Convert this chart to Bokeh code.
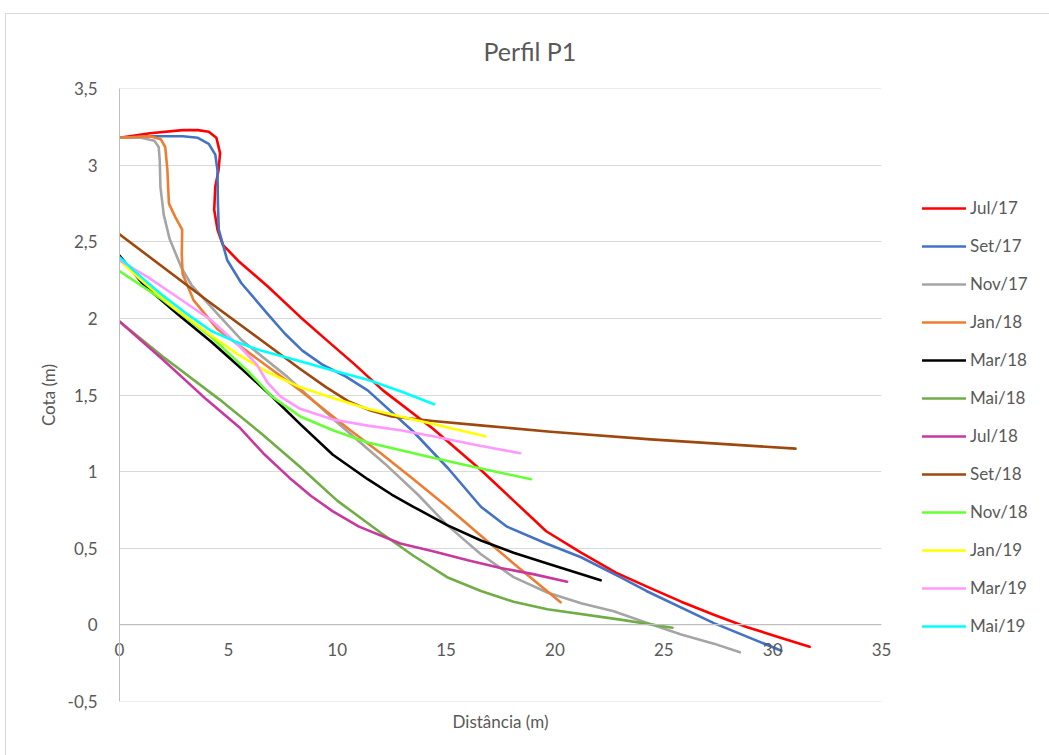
from bokeh.plotting import figure
from bokeh.models import Legend, LegendItem, FixedTicker, CustomJSTickFormatter, Range1d, Span
from bokeh.embed import file_html
from bokeh.resources import INLINE

chart_title = "Perfil P1"
x_label = "Distância (m)"
y_label = "Cota (m)"
x_ticks = [0, 5, 10, 15, 20, 25, 30, 35]
y_ticks = [-0.5, 0, 0.5, 1, 1.5, 2, 2.5, 3, 3.5]

series_names = ["Jul/17", "Set/17", "Nov/17", "Jan/18", "Mar/18", "Mai/18",
                "Jul/18", "Set/18", "Nov/18", "Jan/19", "Mar/19", "Mai/19"]
series_colors = ["#FF0000", "#4472C4", "#A5A5A5", "#ED7D31", "#000000", "#70AD47",
                 "#C8389F", "#9E480E", "#66FF33", "#FFFF00", "#FF99FF", "#00FFFF"]

jul17_x = [0, 1.4, 2.9, 3.6, 4.1, 4.45, 4.62, 4.55, 4.4, 4.35, 4.5, 4.75, 5.5, 6.8, 8.3, 9.5, 10.8, 12.1, 14.4, 16.6, 18.1, 19.6, 21.2, 22.8, 24.2, 25.8, 27.3, 28.8, 30.4, 31.7]
jul17_y = [3.18, 3.21, 3.23, 3.23, 3.22, 3.18, 3.08, 2.97, 2.86, 2.71, 2.58, 2.48, 2.37, 2.21, 2.01, 1.86, 1.70, 1.53, 1.28, 1.01, 0.81, 0.61, 0.47, 0.34, 0.25, 0.15, 0.065, -0.015, -0.087, -0.145]

set17_x = [0, 1.4, 2.9, 3.6, 4.1, 4.4, 4.5, 4.52, 4.56, 4.95, 5.6, 6.8, 7.6, 8.4, 9.3, 10.4, 11.4, 13.5, 15.1, 16.6, 17.8, 19.6, 21.2, 23.0, 24.2, 27.3, 30.4]
set17_y = [3.18, 3.19, 3.19, 3.18, 3.14, 3.07, 2.97, 2.75, 2.58, 2.38, 2.23, 2.03, 1.90, 1.79, 1.70, 1.62, 1.53, 1.26, 1.02, 0.77, 0.64, 0.53, 0.44, 0.31, 0.22, 0.01, -0.17]

nov17_x = [0, 1.0, 1.6, 1.8, 1.85, 1.88, 2.03, 2.3, 2.85, 3.3, 4.5, 5.6, 7.7, 10.0, 12.2, 13.7, 15.05, 16.6, 18.1, 19.65, 21.2, 22.7, 24.24, 25.8, 27.3, 28.5]
nov17_y = [3.18, 3.18, 3.16, 3.12, 3.03, 2.86, 2.68, 2.52, 2.33, 2.22, 2.03, 1.86, 1.62, 1.32, 1.05, 0.85, 0.65, 0.46, 0.31, 0.21, 0.14, 0.087, 0.011, -0.065, -0.124, -0.18]

jan18_x = [0, 1.4, 1.9, 2.1, 2.2, 2.27, 2.57, 2.88, 2.86, 2.9, 3.4, 4.5, 6.0, 8.3, 10.6, 12.0, 13.5, 15.05, 16.6, 18.1, 20.26]
jan18_y = [3.18, 3.19, 3.17, 3.12, 2.97, 2.75, 2.66, 2.58, 2.42, 2.29, 2.12, 1.93, 1.77, 1.53, 1.27, 1.12, 0.95, 0.77, 0.58, 0.40, 0.146]

mar18_x = [0, 1.1, 2.65, 4.2, 5.7, 7.0, 8.3, 9.8, 11.4, 12.5, 13.5, 15.05, 16.6, 18.1, 19.65, 22.1]
mar18_y = [2.41, 2.22, 2.03, 1.85, 1.66, 1.49, 1.31, 1.11, 0.95, 0.85, 0.77, 0.65, 0.55, 0.47, 0.40, 0.29]

mai18_x = [0, 2.0, 4.6, 6.5, 8.3, 10.0, 12.0, 13.5, 15.05, 16.6, 18.1, 19.65, 23.0, 25.4]
mai18_y = [1.98, 1.75, 1.47, 1.25, 1.03, 0.81, 0.60, 0.45, 0.31, 0.22, 0.15, 0.10, 0.033, -0.02]

jul18_x = [0, 2.0, 4.0, 5.5, 6.6, 7.8, 8.8, 9.8, 11.0, 12.9, 14.4, 16.0, 17.5, 19.0, 20.56]
jul18_y = [1.98, 1.73, 1.47, 1.29, 1.12, 0.96, 0.84, 0.74, 0.64, 0.53, 0.48, 0.42, 0.37, 0.33, 0.28]

set18_x = [0, 4.0, 8.3, 9.5, 10.5, 11.5, 12.5, 14.4, 16.7, 19.8, 24.4, 31.05]
set18_y = [2.55, 2.12, 1.67, 1.55, 1.46, 1.40, 1.36, 1.33, 1.30, 1.26, 1.21, 1.15]

nov18_x = [0, 1.9, 4.2, 6.0, 7.0, 8.3, 9.8, 11.4, 14.4, 16.6, 18.9]
nov18_y = [2.31, 2.13, 1.88, 1.64, 1.49, 1.36, 1.27, 1.19, 1.09, 1.02, 0.95]

jan19_x = [0, 1.0, 2.5, 4.2, 5.5, 6.8, 8.3, 9.8, 11.4, 12.9, 14.4, 16.8]
jan19_y = [2.38, 2.25, 2.07, 1.89, 1.76, 1.65, 1.55, 1.48, 1.41, 1.36, 1.31, 1.23]

mar19_x = [0, 1.3, 2.65, 4.2, 5.5, 6.3, 6.8, 7.4, 8.3, 9.8, 11.4, 12.9, 14.4, 16.5, 18.4]
mar19_y = [2.38, 2.27, 2.14, 1.99, 1.82, 1.70, 1.58, 1.49, 1.41, 1.34, 1.30, 1.27, 1.23, 1.17, 1.12]

mai19_x = [0, 1.0, 1.9, 3.0, 4.2, 5.3, 6.5, 8.3, 9.8, 11.4, 13.0, 14.45]
mai19_y = [2.40, 2.27, 2.16, 2.04, 1.92, 1.85, 1.79, 1.72, 1.66, 1.60, 1.52, 1.44]

series_x = [jul17_x, set17_x, nov17_x, jan18_x, mar18_x, mai18_x,
            jul18_x, set18_x, nov18_x, jan19_x, mar19_x, mai19_x]
series_y = [jul17_y, set17_y, nov17_y, jan18_y, mar18_y, mai18_y,
            jul18_y, set18_y, nov18_y, jan19_y, mar19_y, mai19_y]

FONT = "Lato"
TXT = "#595959"
GRID = "#D9D9D9"

p = figure(frame_width=762, frame_height=613, x_range=Range1d(0, 35), y_range=Range1d(-0.502, 3.502),
           output_backend="svg", toolbar_location=None, title=chart_title,
           min_border_left=113, min_border_right=168, min_border_top=74, min_border_bottom=55)
p.margin = (13, 0, 0, 5)
p.styles = {"border-left": "1px solid #D9D9D9", "border-top": "1px solid #D9D9D9"}
p.outline_line_color = None
p.background_fill_color = "white"
p.border_fill_color = "white"

p.title.align = "left"
p.title.offset = 364
p.title.standoff = 41
p.title.vertical_align = "top"
p.title.text_font = FONT
p.title.text_font_size = "25px"
p.title.text_font_style = "normal"
p.title.text_color = TXT

# x axis: below, labels pulled up to sit under the zero line
p.xaxis.ticker = FixedTicker(ticks=x_ticks)
p.xaxis.major_tick_line_color = None
p.xaxis.minor_tick_line_color = None
p.xaxis.axis_line_color = None
p.xaxis.major_label_text_font = FONT
p.xaxis.major_label_text_font_size = "17px"
p.xaxis.major_label_text_color = TXT
p.xaxis.major_label_standoff = -65
p.xaxis.axis_label = x_label
p.xaxis.axis_label_text_font = FONT
p.xaxis.axis_label_text_font_size = "17px"
p.xaxis.axis_label_text_font_style = "normal"
p.xaxis.axis_label_text_color = TXT
p.xaxis.axis_label_standoff = 52

p.yaxis.ticker = FixedTicker(ticks=y_ticks)
p.yaxis.formatter = CustomJSTickFormatter(code="return tick.toString().replace('.', ',');")
p.yaxis.major_tick_line_color = None
p.yaxis.minor_tick_line_color = None
p.yaxis.axis_line_color = "#BFBFBF"
p.yaxis.major_label_text_font = FONT
p.yaxis.major_label_text_font_size = "17px"
p.yaxis.major_label_text_color = TXT
p.yaxis.major_label_standoff = 16
p.yaxis.axis_label = y_label
p.yaxis.axis_label_text_font = FONT
p.yaxis.axis_label_text_font_size = "17px"
p.yaxis.axis_label_text_font_style = "normal"
p.yaxis.axis_label_text_color = TXT
p.yaxis.axis_label_standoff = 6

p.xgrid.visible = False
p.ygrid.ticker = FixedTicker(ticks=y_ticks)
p.ygrid.grid_line_color = GRID
p.ygrid.grid_line_width = 1

p.add_layout(Span(location=0, dimension="width", line_color="#BFBFBF", line_width=1.2))

renderers = []
for name, col, xs, ys in zip(series_names, series_colors, series_x, series_y):
    r = p.line(xs, ys, line_color=col, line_width=2.6, line_join="round", line_cap="round")
    renderers.append(r)

legend = Legend(items=[LegendItem(label=n, renderers=[r]) for n, r in zip(series_names, renderers)],
                location=(41, 65), glyph_width=44, glyph_height=20, label_height=20,
                spacing=17, label_standoff=4, padding=10, margin=0,
                border_line_color=None, background_fill_alpha=0,
                label_text_font=FONT, label_text_font_size="17px", label_text_color=TXT)
p.add_layout(legend, "right")

open("out.html", "w").write(file_html(p, INLINE))
